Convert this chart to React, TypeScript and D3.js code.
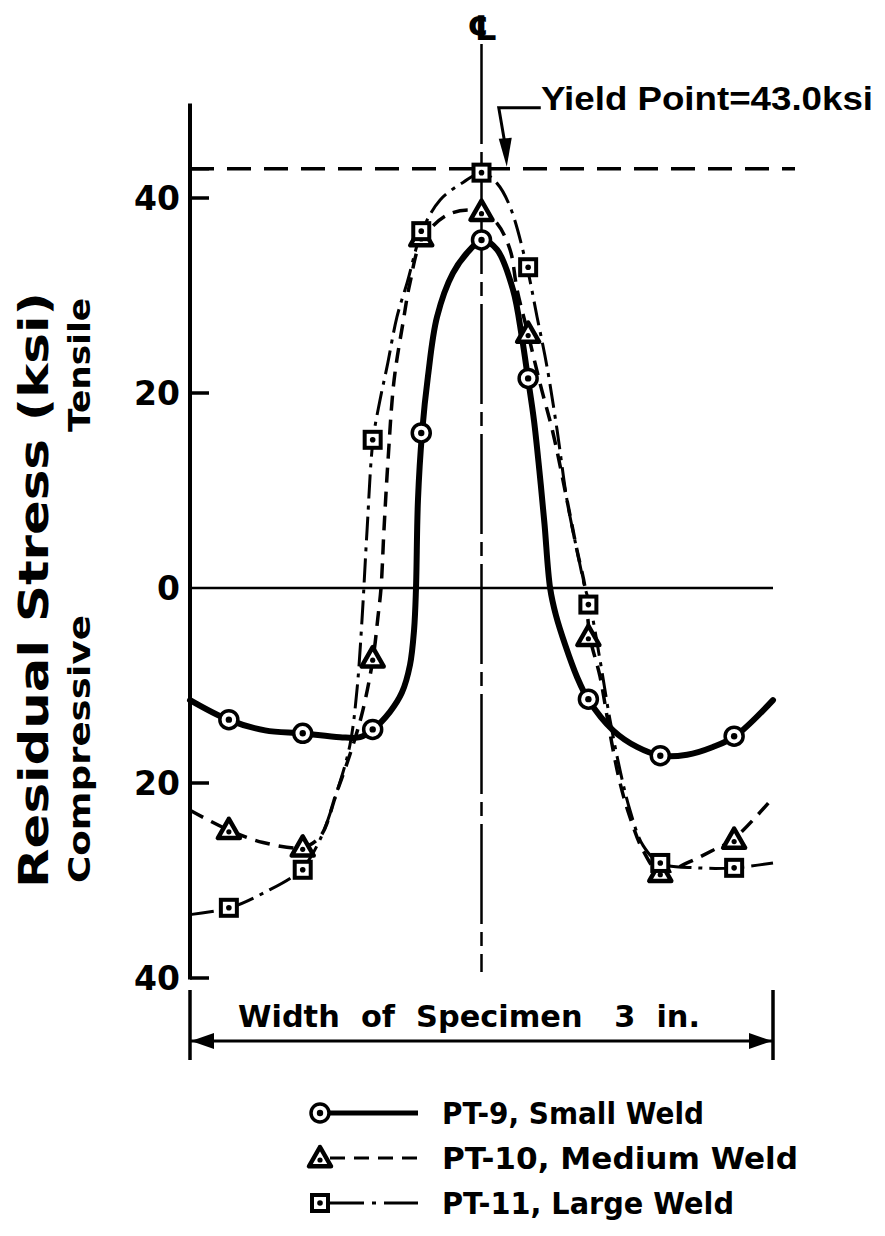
import React from 'react';
import * as d3 from 'd3';

const W = 885;
const H = 1236;

// measurement stations across the specimen width (in.)
const stations = [0.2, 0.58, 0.94, 1.19, 1.5, 1.74, 2.05, 2.42, 2.8];
// residual stress at the stations (ksi, + tensile, - compressive)
const pt9Values = [-13.5, -14.9, -14.5, 15.9, 35.7, 21.5, -11.4, -17.2, -15.2];
const pt10Values = [-24.8, -26.6, -7.2, 36.0, 38.6, 26.1, -5.0, -29.2, -25.8];
const pt11Values = [-32.8, -28.9, 15.2, 36.6, 42.6, 32.9, -1.7, -28.2, -28.7];

// faired curves as drawn in the figure [in., ksi]
const pt9Curve: [number, number][] = [
  [0, -11.5], [0.196, -13.5], [0.386, -14.6], [0.576, -14.9], [0.772, -15.3], [0.875, -15.3],
  [0.942, -14.5], [1.029, -12.7], [1.091, -10.7], [1.132, -7.9], [1.153, -4.3], [1.163, 0],
  [1.173, 9.0], [1.194, 15.9], [1.225, 21.8], [1.271, 27.8], [1.353, 32.3], [1.441, 34.7],
  [1.503, 35.7], [1.58, 34.7], [1.662, 30.6], [1.708, 25.7], [1.739, 21.5], [1.77, 17.2],
  [1.798, 12.0], [1.824, 6.6], [1.853, 0], [1.883, -2.8], [1.93, -5.8], [1.991, -9.1],
  [2.048, -11.4], [2.177, -14.6], [2.3, -16.3], [2.424, -17.2], [2.558, -17.1], [2.691, -16.3],
  [2.805, -15.2], [3.0, -11.5],
];
const pt10Curve: [number, number][] = [
  [0, -22.8], [0.196, -24.8], [0.376, -26.1], [0.576, -26.6], [0.669, -25.5], [0.756, -20.9],
  [0.834, -16.4], [0.89, -12.5], [0.942, -7.2], [0.967, -3.0], [0.983, 0], [0.998, 5.9],
  [1.019, 13.1], [1.05, 21.3], [1.096, 27.2], [1.132, 31.3], [1.194, 35.7], [1.338, 38.4],
  [1.503, 38.6], [1.58, 37.4], [1.647, 34.7], [1.683, 30.6], [1.739, 26.1], [1.801, 21.0],
  [1.868, 15.9], [1.94, 9.0], [1.991, 3.9], [2.033, 0], [2.058, -5.0], [2.11, -9.1],
  [2.161, -14.9], [2.213, -20.0], [2.264, -23.5], [2.331, -26.9], [2.419, -29.2],
  [2.558, -28.2], [2.691, -26.9], [2.794, -25.8], [3.0, -21.5],
];
const pt11Curve: [number, number][] = [
  [0, -33.5], [0.206, -32.8], [0.386, -31.2], [0.571, -28.9], [0.669, -25.8], [0.756, -20.9],
  [0.823, -16.1], [0.859, -10.5], [0.885, -3.3], [0.911, 5.9], [0.942, 15.2], [0.978, 19.3],
  [1.014, 22.7], [1.065, 27.8], [1.117, 31.3], [1.194, 36.6], [1.287, 39.8], [1.405, 41.6],
  [1.503, 42.6], [1.58, 41.5], [1.647, 39.1], [1.734, 32.9], [1.786, 27.8], [1.837, 22.7],
  [1.889, 16.2], [1.94, 9.0], [1.991, 3.9], [2.033, 0], [2.058, -1.7], [2.11, -7.4],
  [2.161, -13.5], [2.213, -18.7], [2.264, -22.8], [2.331, -26.4], [2.419, -28.2],
  [2.609, -28.7], [2.8, -28.7], [3.0, -28.2],
];

const yTicks = [40, 20, 0, -20, -40];
const yTickLabels = ['40', '20', '0', '20', '40'];
const yieldPoint = 43.0;
const specimenWidth = 3;

const legendLabels = ['PT-9, Small Weld', 'PT-10, Medium Weld', 'PT-11, Large Weld'];
const legendTextLengths = [262, 356, 292];

const FONT = '"DejaVu Sans", "Liberation Sans", sans-serif';
const NARROW = '"Liberation Sans", Arial, sans-serif';

type Shape = 'circle' | 'triangle' | 'square';

function Marker({ cx, cy, shape }: { cx: number; cy: number; shape: Shape }) {
  if (shape === 'circle') {
    return (
      <g>
        <circle cx={cx} cy={cy} r={9} fill="#fff" stroke="#000" strokeWidth={3.5} />
        <circle cx={cx} cy={cy} r={3.2} fill="#000" />
      </g>
    );
  }
  if (shape === 'triangle') {
    const s = 11;
    const pts = `${cx},${cy - s} ${cx - s},${cy + s * 0.75} ${cx + s},${cy + s * 0.75}`;
    return (
      <g>
        <polygon points={pts} fill="#fff" stroke="#000" strokeWidth={4.5} strokeLinejoin="round" />
        <circle cx={cx} cy={cy + 2} r={2.6} fill="#000" />
      </g>
    );
  }
  return (
    <g>
      <rect x={cx - 8} y={cy - 8} width={16} height={16} fill="#fff" stroke="#000" strokeWidth={4} />
      <circle cx={cx} cy={cy} r={2.8} fill="#000" />
    </g>
  );
}

export default function App() {
  const x = d3.scaleLinear().domain([0, specimenWidth]).range([190, 773]);
  const y = d3.scaleLinear().domain([-40, 40]).range([978, 198]);
  const line = d3
    .line<[number, number]>()
    .x((d) => x(d[0]))
    .y((d) => y(d[1]))
    .curve(d3.curveCatmullRom.alpha(0.5));

  const series = [
    { curve: pt9Curve, values: pt9Values, shape: 'circle' as Shape, width: 6, dash: undefined as string | undefined },
    { curve: pt10Curve, values: pt10Values, shape: 'triangle' as Shape, width: 3.5, dash: '15 9' },
    { curve: pt11Curve, values: pt11Values, shape: 'square' as Shape, width: 3, dash: '24 7 4 7' },
  ];

  const x0 = x(0);
  const x1 = x(specimenWidth);
  const xc = x(specimenWidth / 2);
  const yTop = y(49.7);
  const yBot = y(-40);
  const yYield = y(yieldPoint);
  const arrowX = x(1.63);

  const legendY = [1113, 1158, 1203];

  return (
    <svg
      width={W}
      height={H}
      viewBox={`0 0 ${W} ${H}`}
      style={{ position: 'absolute', left: 0, top: 0, background: '#fff' }}
      fontFamily={FONT}
      fontWeight="bold"
    >
      <rect width={W} height={H} fill="#fff" />

      {/* centre line */}
      <line x1={xc} x2={xc} y1={44} y2={972} stroke="#000" strokeWidth={2.5} strokeDasharray="100 8 14 8" />
      <text x={xc + 1} y={40} fontSize={34} textAnchor="middle" fontFamily={FONT}>℄</text>

      {/* zero line */}
      <line x1={x0} x2={x1} y1={y(0)} y2={y(0)} stroke="#000" strokeWidth={2.5} />

      {/* yield line */}
      <line x1={x0} x2={795} y1={yYield} y2={yYield} stroke="#000" strokeWidth={3.5} strokeDasharray="24 13" />
      <path
        d={`M${arrowX + 34},${yYield - 61} L${arrowX - 8},${yYield - 61} L${arrowX - 2},${yYield - 26}`}
        fill="none"
        stroke="#000"
        strokeWidth={3}
      />
      <path
        d={`M${arrowX},${yYield - 2} L${arrowX - 8},${yYield - 30} L${arrowX + 5},${yYield - 31} Z`}
        fill="#000"
      />
      <text
        x={541}
        y={110}
        fontSize={34}
        fontFamily={NARROW}
        textLength={332}
        lengthAdjust="spacingAndGlyphs"
      >
        Yield Point=43.0ksi
      </text>

      {/* y axis */}
      <line x1={x0} x2={x0} y1={yTop} y2={yBot + 1.5} stroke="#000" strokeWidth={4} />
      {[yieldPoint, 40, 20, -20, -40].map((v) => (
        <line key={v} x1={x0} x2={x0 + 19} y1={y(v)} y2={y(v)} stroke="#000" strokeWidth={3.5} />
      ))}
      {yTicks.map((v, i) => (
        <text key={i} x={180} y={y(v)} dy="0.36em" fontSize={33} textAnchor="end">
          {yTickLabels[i]}
        </text>
      ))}

      {/* axis titles */}
      <text
        transform={`translate(48,590) rotate(-90)`}
        fontSize={40}
        textAnchor="middle"
        textLength={596}
        lengthAdjust="spacingAndGlyphs"
      >
        Residual Stress (ksi)
      </text>
      <text transform={`translate(90,365) rotate(-90)`} fontSize={31} textAnchor="middle" textLength={134} lengthAdjust="spacingAndGlyphs">
        Tensile
      </text>
      <text transform={`translate(90,749) rotate(-90)`} fontSize={31} textAnchor="middle" textLength={268} lengthAdjust="spacingAndGlyphs">
        Compressive
      </text>

      {/* curves */}
      {series.map((s, i) => (
        <path
          key={i}
          d={line(s.curve) || ''}
          fill="none"
          stroke="#000"
          strokeWidth={s.width}
          strokeDasharray={s.dash}
          strokeLinecap={s.dash ? 'butt' : 'round'}
        />
      ))}
      {series.map((s, i) => (
        <g key={i}>
          {stations.map((st, j) => (
            <Marker key={j} cx={x(st)} cy={y(s.values[j])} shape={s.shape} />
          ))}
        </g>
      ))}

      {/* specimen width dimension */}
      <line x1={x0} x2={x0} y1={990} y2={1060} stroke="#000" strokeWidth={3.5} />
      <line x1={x1} x2={x1} y1={990} y2={1060} stroke="#000" strokeWidth={3.5} />
      <line x1={x0} x2={x1} y1={1041} y2={1041} stroke="#000" strokeWidth={3} />
      <path d={`M${x0 + 1},1041 L${x0 + 24},1033 L${x0 + 24},1049 Z`} fill="#000" />
      <path d={`M${x1 - 1},1041 L${x1 - 24},1033 L${x1 - 24},1049 Z`} fill="#000" />
      <text x={238} y={1027} fontSize={30} textLength={462} lengthAdjust="spacingAndGlyphs" xmlSpace="preserve">
        Width  of  Specimen   3  in.
      </text>

      {/* legend */}
      {series.map((s, i) => (
        <g key={i}>
          <line
            x1={330}
            x2={418}
            y1={legendY[i]}
            y2={legendY[i]}
            stroke="#000"
            strokeWidth={s.width === 6 ? 5 : 3}
            strokeDasharray={s.dash ? (i === 1 ? '15 9' : '34 8 4 8') : undefined}
          />
          <Marker cx={320} cy={legendY[i]} shape={s.shape} />
          <text
            x={442}
            y={legendY[i]}
            dy="0.36em"
            fontSize={31}
            textLength={legendTextLengths[i]}
            lengthAdjust="spacingAndGlyphs"
          >
            {legendLabels[i]}
          </text>
        </g>
      ))}
    </svg>
  );
}
